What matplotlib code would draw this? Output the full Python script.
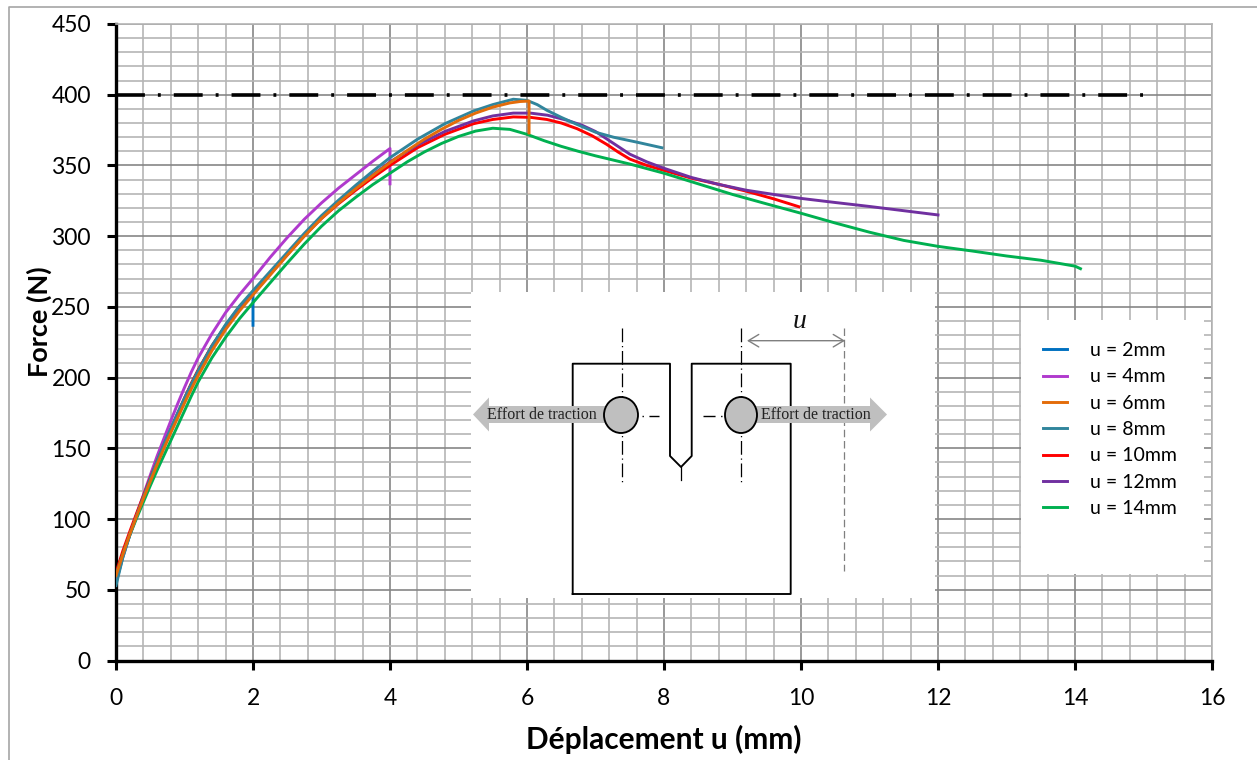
import numpy as np
import matplotlib
matplotlib.use("Agg")
import matplotlib.pyplot as plt
from matplotlib.patches import Rectangle, Ellipse, Polygon

plt.rcParams['font.family'] = ['Lato', 'DejaVu Sans']

rise_x = [0, 0.1, 0.2, 0.3, 0.4, 0.5, 0.6, 0.7, 0.8, 0.9, 1, 1.1, 1.2, 1.4, 1.6, 1.8, 2]
mid_x = [2.25, 2.5, 2.75, 3, 3.25, 3.5, 3.75, 4]

u2_x = rise_x + [2, 2]
u2_y = [55, 73, 88.5, 102, 115, 128, 140.5, 152.5, 163.5, 174.5, 185, 195.5, 205, 222, 237, 250, 260, 250, 237]

u4_x = rise_x + mid_x + [4, 4]
u4_y = [58, 74, 89, 103, 117, 131, 144.5, 157, 169.5, 181.5, 193, 204, 214, 231, 246, 258.5, 270,
        285, 299, 312, 323.5, 334, 343.5, 353, 362, 350, 337]

u6_x = rise_x + mid_x + [4.25, 4.5, 4.75, 5, 5.25, 5.5, 5.75, 5.9, 6.03, 6.03, 6.03]
u6_y = [60, 75, 89, 102, 114.5, 126.5, 138.5, 150, 161, 171.5, 182, 192, 201.5, 219, 234, 247, 258.5,
        272.5, 286.5, 300, 312.5, 323.5, 333.5, 343, 352, 360.5, 368.5, 375.5, 381.8, 387, 391.2, 394.2, 395.2, 395.5, 385, 373]

u8_x = rise_x + mid_x + [4.4, 4.8, 5.22, 5.5, 5.8, 6, 6.15, 6.29, 6.5, 6.73, 7, 7.26, 7.6, 7.97]
u8_y = [53, 73, 88.5, 102, 115.5, 128.5, 141, 153, 164, 175, 185.5, 195.5, 205, 222.5, 237.5, 250.5, 261.5,
        275, 288.5, 302, 314.5, 325.5, 336, 346, 355.5, 368.5, 379.5, 388.5, 393, 396.8, 396, 393, 389, 384, 379, 373.5, 370, 366.5, 362.5]

u10_x = rise_x + mid_x + [4.4, 4.8, 5.22, 5.5, 5.8, 6.05, 6.29, 6.5, 6.73, 6.95, 7.16, 7.33, 7.5, 7.75, 8, 8.4, 8.8, 9.2, 9.6, 9.97]
u10_y = [62, 77.5, 91, 104, 116.5, 129, 141, 152.5, 163.5, 174.5, 185.5, 196, 205.5, 222.5, 236.5, 249, 260,
         273.5, 287, 300.5, 312.5, 323, 332.5, 341.5, 350, 362.5, 372, 379.5, 382.5, 384.3, 384, 382.5, 380, 376, 371, 365, 359.5, 354.5, 350, 346.5,
         341, 336.6, 331.8, 326.4, 320.8]

u12_x = rise_x + mid_x + [4.4, 4.8, 5.22, 5.5, 5.8, 6.05, 6.3, 6.58, 6.8, 7, 7.25, 7.5, 7.75, 8, 8.4, 8.8, 9.2, 9.6, 10, 10.5, 11, 11.5, 12]
u12_y = [60, 75, 89, 102.5, 115, 127.5, 139.5, 151, 162, 173, 184, 194.5, 204, 221.5, 236, 248, 259,
         273, 287, 300.5, 313, 324, 334, 343.5, 352.5, 364.5, 374, 381.5, 385, 387, 387, 385.5, 382, 378.5, 374, 366, 358, 352.5, 348,
         341.5, 336.6, 332.5, 329.5, 326.7, 323.8, 321, 318, 315]

u14_x = rise_x + mid_x + [4.25, 4.5, 4.75, 5, 5.25, 5.5, 5.75, 6, 6.25, 6.5, 6.75, 7, 7.5, 8, 8.5, 9, 9.5, 10, 10.5, 11, 11.5, 12, 12.5, 13, 13.5, 14, 14.08]
u14_y = [60, 75, 88.5, 100.5, 112, 123.5, 134.5, 145, 155.5, 166, 176.5, 187, 197, 214, 228.5, 241.5, 253,
         267, 281, 294.5, 307, 318, 327.5, 336.5, 344.5, 352.5, 359.5, 365.5, 370.5, 374.3, 376.3, 375.5, 372, 367.5, 363.5, 360, 356.8, 351, 344.5, 337, 329.5,
         322.8, 316.2, 309.3, 302.8, 297, 292.8, 289.5, 286, 283, 278.8, 277]

limit_x = [0, 15.05]
limit_y = [400, 400]

curves = [(u2_x, u2_y), (u4_x, u4_y), (u6_x, u6_y), (u8_x, u8_y), (u10_x, u10_y), (u12_x, u12_y), (u14_x, u14_y)]
labels = ['u = 2mm', 'u = 4mm', 'u = 6mm', 'u = 8mm', 'u = 10mm', 'u = 12mm', 'u = 14mm']
colors = ['#0070C0', '#B03ACD', '#E36C0A', '#31859C', '#FF0000', '#7030A0', '#00B050']
# drawing order of the original, the legend keeps the order of labels
order = [0, 1, 4, 5, 6, 3, 2]

W, H = 1257, 760
fig = plt.figure(figsize=(W / 100, H / 100), dpi=100)
L, R, T, B = 116, 1212, 24, 660.5
ax = fig.add_axes([L / W, 1 - B / H, (R - L) / W, (B - T) / H])

lines = {}
for i in order:
    x, y = curves[i]
    lines[i], = ax.plot(x, y, color=colors[i], lw=2.1, label=labels[i], zorder=3, solid_joinstyle='round')

ax.plot(limit_x, limit_y, color='black', lw=2.6, dashes=(8.0, 3.6, 0.8, 3.6), dash_capstyle='butt', zorder=3)

ax.set_xlim(0, 16)
ax.set_ylim(0, 450)
ax.set_xticks(np.arange(0, 17, 2))
ax.set_yticks(np.arange(0, 451, 50))
ax.set_xticks(np.arange(0, 16.01, 0.4), minor=True)
ax.set_yticks(np.arange(0, 451, 10), minor=True)
ax.grid(which='minor', color='#B5B5B5', lw=1.2)
ax.grid(which='major', color='#868686', lw=1.2)
ax.set_axisbelow(True)
ax.tick_params(which='minor', length=0)
ax.tick_params(which='major', length=6.5, width=2.2, labelsize=16.5, color='black')
ax.tick_params(axis='x', pad=13)
ax.tick_params(axis='y', pad=11.5)
for s in ['top', 'right']:
    ax.spines[s].set_color('#B5B5B5')
    ax.spines[s].set_linewidth(1.2)
for s in ['left', 'bottom']:
    ax.spines[s].set_color('black')
    ax.spines[s].set_linewidth(2.4)
ax.set_xlabel('Déplacement u (mm)', fontsize=21.5, fontweight='bold')
ax.set_ylabel('Force (N)', fontsize=19.5, fontweight='bold')
ax.xaxis.set_label_coords(0.5, (B - 725) / (B - T))
ax.yaxis.set_label_coords((52 - L) / (R - L), (B - 322) / (B - T))

# overlay in pixel coordinates for the white boxes and the specimen sketch
ov = fig.add_axes([0, 0, 1, 1], zorder=5)
ov.set_xlim(0, W)
ov.set_ylim(H, 0)
ov.axis('off')
ov.patch.set_alpha(0)

ov.plot([9, 9, W], [H, 7, 7], color='#A6A6A6', lw=1.2, zorder=0)
ov.add_patch(Rectangle((471, 291.5), 464, 306, fc='white', ec='none', zorder=1))
ov.add_patch(Rectangle((1021, 320), 183, 254, fc='white', ec='none', zorder=1))

ov.plot([572.7, 572.7, 670, 670, 681, 691.7, 691.7, 790.7, 790.7, 572.7],
        [594, 363.7, 363.7, 456, 467, 456, 363.7, 363.7, 594, 594], color='black', lw=1.35, zorder=2)
ov.plot([681, 681], [467, 480], color='black', lw=0.9, zorder=2)
for cx in [621.5, 741]:
    ov.plot([cx, cx], [328, 485], color='black', lw=0.9, dashes=(11, 3, 1, 3), zorder=2)
ov.plot([642, 659], [415.5, 415.5], color='black', lw=1.0, dashes=(1, 4, 12, 3), zorder=2)
ov.plot([722, 703], [415.5, 415.5], color='black', lw=1.0, dashes=(1, 4, 12, 3), zorder=2)
ov.plot([844, 844], [328, 571], color='#7F7F7F', lw=0.9, dashes=(6, 3), zorder=2)

grey = '#BFBFBF'
ov.add_patch(Polygon([(473, 414.5), (489, 397.5), (489, 406), (610, 406), (610, 423), (489, 423), (489, 431.5)],
                     fc=grey, ec='none', zorder=3))
ov.add_patch(Polygon([(887, 414.5), (870, 397.5), (870, 406), (750, 406), (750, 423), (870, 423), (870, 431.5)],
                     fc=grey, ec='none', zorder=3))
ov.add_patch(Ellipse((621, 415), 34, 36, fc=grey, ec='black', lw=1.35, zorder=4))
ov.add_patch(Ellipse((741, 415), 32, 36, fc=grey, ec='black', lw=1.35, zorder=4))
ov.text(487, 415, 'Effort de traction', family='Liberation Serif', fontsize=11.5, color='#222222',
        va='center', ha='left', zorder=5)
ov.text(761, 415, 'Effort de traction', family='Liberation Serif', fontsize=11.5, color='#222222',
        va='center', ha='left', zorder=5)
ov.annotate('', xy=(747, 340.7), xytext=(845, 340.7), zorder=3,
            arrowprops=dict(arrowstyle='<->,head_length=0.75,head_width=0.45', color='#7F7F7F', lw=1.0,
                            shrinkA=0, shrinkB=0))
ov.text(800, 321, 'u', family='Liberation Serif', style='italic', fontsize=20, color='#111111',
        ha='center', va='center', zorder=5)

ov.legend(handles=[lines[i] for i in range(7)], loc='upper left', bbox_to_anchor=(1043, 342),
          bbox_transform=ov.transData, frameon=False, fontsize=14, labelspacing=0.48,
          handlelength=1.23, handletextpad=1.2, borderpad=0, borderaxespad=0)

fig.savefig('out.png', dpi=100)
